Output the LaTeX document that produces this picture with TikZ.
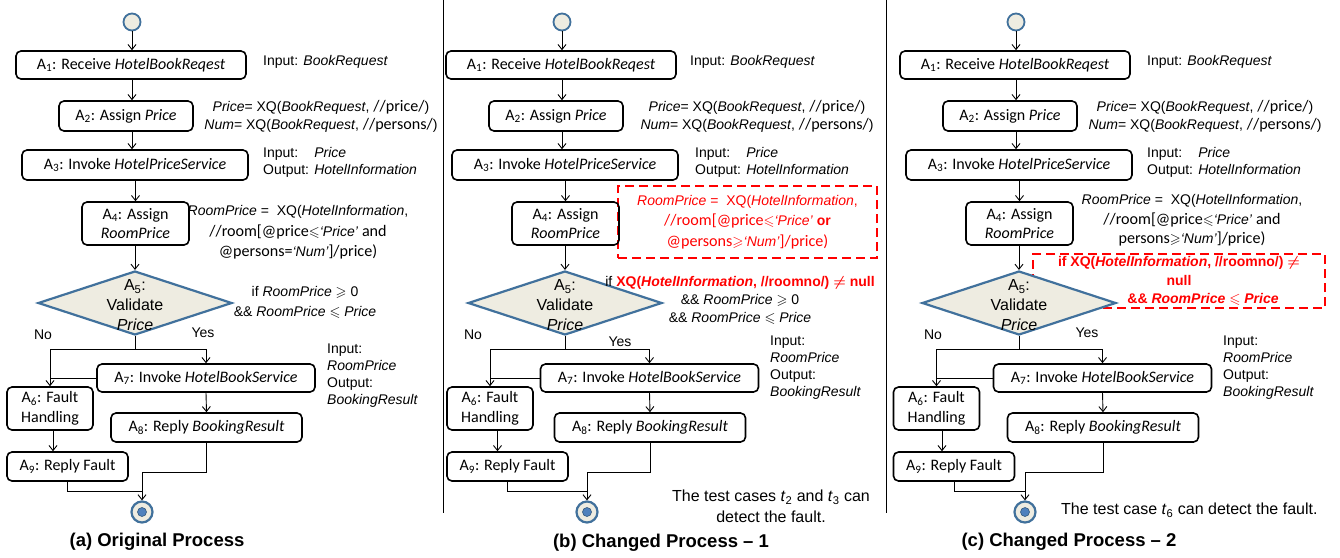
\documentclass[tikz,border=0pt]{standalone}
\usepackage{fontspec}
\usepackage{amssymb}
\setmainfont{Liberation Sans}
\newfontfamily\cf{Carlito}
\newfontfamily\cfb{Carlito}[Scale=1.15]
\usetikzlibrary{arrows.meta,shapes.geometric}
\definecolor{dblue}{HTML}{41719C}
\definecolor{beige}{HTML}{EEECE1}
\definecolor{mblue}{HTML}{4F81BD}
\tikzset{
 act/.style={draw, line width=1.6pt, rounded corners=5pt, inner sep=0pt, align=center, font=\cf\fontsize{16}{19.5}\selectfont},
 dia/.style={diamond, draw=dblue, fill=beige, line width=2.2pt, minimum width=194pt, minimum height=64pt, inner sep=0pt},
 dtext/.style={align=center, font=\fontsize{16}{20}\selectfont, inner sep=0pt},
 startc/.style={circle, draw=dblue, fill=beige, line width=1.8pt, minimum size=17pt, inner sep=0pt},
 endc/.style={circle, draw=dblue, fill=beige, line width=2.2pt, minimum size=21pt, inner sep=0pt},
 enddot/.style={circle, draw=dblue!80!black, fill=mblue, line width=0.6pt, minimum size=9pt, inner sep=0pt},
 arr/.style={-{Straight Barb[length=5pt,width=8pt]}, line width=0.9pt},
 ln/.style={line width=0.9pt},
 ann/.style={font=\fontsize{14}{17}\selectfont, inner sep=0pt},
 redbox/.style={draw=red, dash pattern=on 9pt off 5pt, line width=2.2pt, text=red, align=center, inner sep=0pt},
 captxt/.style={font=\bfseries\fontsize{18.5}{22}\selectfont, inner sep=0pt},
 lab/.style={font=\fontsize{14}{17}\selectfont, inner sep=0pt},
}
% #1 prefix, #2 top dx, #3 left-lower dx, #4 right-lower dx, #5 end dx, #6 A6->A9 arrow shift
\newcommand\flowpanel[6]{%
 \node[startc] (#1S) at (132+#2,22) {};
 \node[act, minimum width=230pt, minimum height=28pt] (#1A1) at (131+#2,65) {A\textsubscript{1}: Receive \textit{HotelBookReqest}};
 \node[act, minimum width=134pt, minimum height=30pt] (#1A2) at (126+#2,116) {A\textsubscript{2}: Assign \textit{Price}};
 \node[act, minimum width=226pt, minimum height=30pt] (#1A3) at (135+#2,165) {A\textsubscript{3}: Invoke \textit{HotelPriceService}};
 \node[act, minimum width=107pt, minimum height=43pt] (#1A4) at (135.5+#2,223.5) {A\textsubscript{4}: Assign\\\textit{RoomPrice}};
 \node[dia] (#1D) at (135+#2,303) {};
 \node[dtext] (#1DT) at (135+#2,305) {A\textsubscript{5}:\\Validate\\\textit{Price}};
 \node[act, minimum width=218pt, minimum height=28pt] (#1A7) at (206+#4,378) {A\textsubscript{7}: Invoke \textit{HotelBookService}};
 \node[act, minimum width=86pt, minimum height=43pt] (#1A6) at (50+#3,408.5) {A\textsubscript{6}: Fault\\Handling};
 \node[act, minimum width=191pt, minimum height=29pt] (#1A8) at (206.5+#4,427.5) {A\textsubscript{8}: Reply \textit{BookingResult}};
 \node[act, minimum width=121pt, minimum height=29pt] (#1A9) at (67.5+#3,466.5) {A\textsubscript{9}: Reply Fault};
 \node[endc] (#1E) at (142+#5,512) {};
 \node[enddot] (#1Ed) at (#1E) {};
 \draw[arr] (#1S.south) -- (#1S |- #1A1.north);
 \draw[arr] (#1A1.south -| #1S) -- (#1A2.north -| #1S);
 \draw[arr] (#1A2.south -| #1S) -- (#1A3.north -| #1S);
 \draw[arr] (#1A3.south -| #1A4) -- (#1A4.north);
 \draw[arr] (#1A4.south -| #1D) -- (#1D.north);
 \path (#1D.south) ++(0,13) coordinate (#1J);
 \draw[arr] (#1D.south) -- (#1J) -| (#1A6.north);
 \draw[arr] (#1J) -| (#1A7.north);
 \draw[ln] (#1A7.west) -- (#1A7.west -| #1A6.north);
 \draw[arr] (#1A7.south) -- (#1A8.north);
 \path ([xshift=#6]#1A6.south) coordinate (#1F1);
 \draw[arr] (#1F1) -- (#1F1 |- #1A9.north);
 \path (#1A9.south) ++(0,10) coordinate (#1K1);
 \draw[ln] (#1A9.south) -- (#1K1) -- (#1K1 -| #1E);
 \path (#1A8.south) ++(0,30) coordinate (#1K2);
 \draw[arr] (#1A8.south) -- (#1K2) -- (#1K2 -| #1E) -- (#1E.north);
}
\begin{document}
\begin{tikzpicture}[x=1pt,y=-1pt]
\fill[white] (0,0) rectangle (1340,557);
\useasboundingbox (0,0) rectangle (1340,557);
% dividers
\coordinate (v1t) at (443,0); \coordinate (v1b) at (443,513);
\coordinate (v2t) at (886,0); \coordinate (v2b) at (886,513);
\draw[line width=1pt] (v1t) -- (v1b);
\draw[line width=1pt] (v2t) -- (v2b);

% ---------- panel (a)
\flowpanel{a}{0}{0}{0}{0}{3pt}
\node[ann, anchor=west] (aI1) at (263,62) {Input: \textit{BookRequest}};
\node[ann, align=center, font=\fontsize{14}{18}\selectfont] (aI2) at (321,116) {\textit{Price}= XQ(\textit{BookRequest}, {\cfb //price/})\\\textit{Num}= XQ(\textit{BookRequest}, {\cfb //persons/})};
\node[ann, anchor=west, align=left] (aI3) at (263,162.5) {\rlap{Input:}\phantom{Output: }\textit{Price}\\Output: \textit{HotelInformation}};
\node[ann, align=center, font=\fontsize{14}{20.5}\selectfont] (aI4) at (298,232.5) {\textit{RoomPrice} = ~XQ(\textit{HotelInformation},\\{\cfb //room[@price}$\leqslant$\textit{‘Price’} {\cfb and}\\{\cfb @persons=}\textit{‘Num’}{\cfb ]/price)}};
\node[ann, align=center, font=\fontsize{14}{20}\selectfont] (aC) at (305,302) {if \textit{RoomPrice} $\geqslant$ 0\\\&\& \textit{RoomPrice} $\leqslant$ \textit{Price}};
\node[ann, anchor=west, align=left] (aI5) at (327,375.5) {Input:\\\textit{RoomPrice}\\Output:\\\textit{BookingResult}};
\node[lab] (aNo) at (43,335) {No};
\node[lab] (aYes) at (203,333) {Yes};
\node[captxt] (aCap) at (157,542) {(a) Original Process};

% ---------- panel (b)
\node[redbox, minimum width=259pt, minimum height=72pt, font=\fontsize{14}{20.5}\selectfont] (bR) at (747.5,222) {\textit{RoomPrice} = ~XQ(\textit{HotelInformation},\\{\cfb //room[@price}$\leqslant$\textit{‘Price’} \textbf{or}\\{\cfb @persons}{\Large$\geqslant$}\textit{‘Num’}{\cfb ]/price)}};
\flowpanel{b}{430}{440}{443.5}{445}{7.5pt}
\node[ann, anchor=west] (bI1) at (690,62) {Input: \textit{BookRequest}};
\node[ann, align=center, font=\fontsize{14}{18}\selectfont] (bI2) at (757,116) {\textit{Price}= XQ(\textit{BookRequest}, {\cfb //price/})\\\textit{Num}= XQ(\textit{BookRequest}, {\cfb //persons/})};
\node[ann, anchor=west, align=left] (bI3) at (695,162.5) {\rlap{Input:}\phantom{Output: }\textit{Price}\\Output: \textit{HotelInformation}};
\node[ann, align=center, font=\fontsize{14}{18}\selectfont] (bC) at (740,300) {if \textcolor{red}{\bfseries XQ(\textit{HotelInformation}, //roomno/) {\boldmath$\neq$} null}\\\&\& \textit{RoomPrice} $\geqslant$ 0\\\&\& \textit{RoomPrice} $\leqslant$ \textit{Price}};
\node[ann, anchor=west, align=left] (bI5) at (770,368) {Input:\\\textit{RoomPrice}\\Output:\\\textit{BookingResult}};
\node[lab] (bNo) at (473,335) {No};
\node[lab] (bYes) at (620,342) {Yes};
\node[align=center, inner sep=0pt, font=\fontsize{16}{21}\selectfont] (bT) at (771,506.5) {The test cases \textit{t}\textsubscript{2} and \textit{t}\textsubscript{3} can\\detect the fault.};
\node[captxt] (bCap) at (661,543) {(b) Changed Process -- 1};

% ---------- panel (c)
\node[redbox, minimum width=292pt, minimum height=54pt, font=\bfseries\fontsize{14}{18.5}\selectfont] (cR) at (1179,281) {if XQ(\textit{HotelInformation}, //roomno/) {\boldmath$\neq$}\\null\\\hspace*{48pt}\&\& \textit{RoomPrice} {\Large$\leqslant$} \textit{Price}};
\flowpanel{c}{884}{886.5}{896.5}{883}{5.5pt}
\node[ann, anchor=west] (cI1) at (1147,62) {Input: \textit{BookRequest}};
\node[ann, align=center, font=\fontsize{14}{18}\selectfont] (cI2) at (1205,116) {\textit{Price}= XQ(\textit{BookRequest}, {\cfb //price/})\\\textit{Num}= XQ(\textit{BookRequest}, {\cfb //persons/})};
\node[ann, anchor=west, align=left] (cI3) at (1147,162.5) {\rlap{Input:}\phantom{Output: }\textit{Price}\\Output: \textit{HotelInformation}};
\node[ann, align=center, font=\fontsize{14}{19.5}\selectfont] (cI4) at (1192,220.5) {\textit{RoomPrice} = ~XQ(\textit{HotelInformation},\\{\cfb //room[@price}$\leqslant$\textit{‘Price’} {\cfb and}\\{\cfb persons}$\geqslant$\textit{‘Num’}{\cfb ]/price)}};
\node[ann, anchor=west, align=left] (cI5) at (1223,368) {Input:\\\textit{RoomPrice}\\Output:\\\textit{BookingResult}};
\node[lab] (cNo) at (933,335) {No};
\node[lab] (cYes) at (1087,333) {Yes};
\node[anchor=west, inner sep=0pt, font=\fontsize{16}{21}\selectfont] (cT) at (1061,510) {The test case \textit{t}\textsubscript{6} can detect the fault.};
\node[captxt] (cCap) at (1069,542) {(c) Changed Process -- 2};
\end{tikzpicture}
\end{document}
